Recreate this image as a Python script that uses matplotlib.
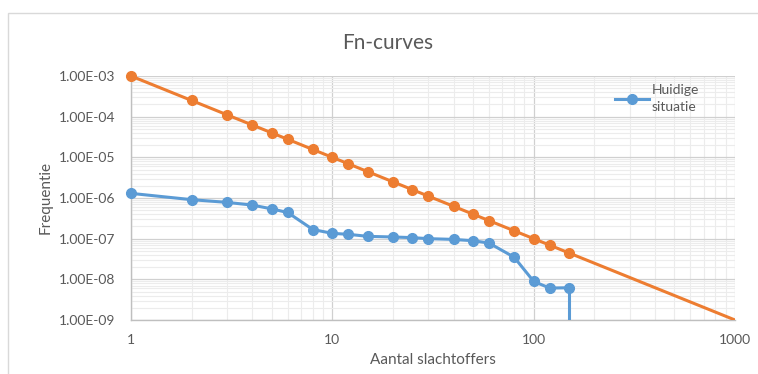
import matplotlib.pyplot as plt
from matplotlib.patches import Rectangle
from matplotlib.ticker import FixedLocator, FuncFormatter, NullFormatter, LogLocator

plt.rcParams['font.family'] = ['Lato', 'DejaVu Sans']

# aantal slachtoffers (x) and frequencies
n_huidig = [1, 2, 3, 4, 5, 6, 8, 10, 12, 15, 20, 25, 30, 40, 50, 60, 80, 100, 120, 150]
f_huidig = [1.3e-6, 9.1e-7, 7.8e-7, 6.7e-7, 5.4e-7, 4.4e-7, 1.68e-7, 1.35e-7, 1.28e-7, 1.14e-7,
            1.1e-7, 1.06e-7, 1.0e-7, 9.6e-8, 8.9e-8, 7.8e-8, 3.5e-8, 8.9e-9, 6.1e-9, 6.2e-9]
# last step: drops to (near) zero at 150
n_drop = [150, 150]
f_drop = [6.2e-9, 1e-12]

n_norm = [1, 2, 3, 4, 5, 6, 8, 10, 12, 15, 20, 25, 30, 40, 50, 60, 80, 100, 120, 150]
f_norm = [1e-3, 2.5e-4, 1.11e-4, 6.25e-5, 4e-5, 2.78e-5, 1.56e-5, 1e-5, 6.94e-6, 4.44e-6,
          2.5e-6, 1.6e-6, 1.11e-6, 6.25e-7, 4e-7, 2.78e-7, 1.56e-7, 1e-7, 6.94e-8, 4.44e-8]
n_norm_end = [150, 1000]
f_norm_end = [4.44e-8, 1e-9]

y_ticks = [1e-9, 1e-8, 1e-7, 1e-6, 1e-5, 1e-4, 1e-3]
x_ticks = [1, 10, 100, 1000]

txt = '#595959'
blue = '#5B9BD5'
orange = '#ED7D31'

fig = plt.figure(figsize=(7.58, 3.74), dpi=100)
fig.patches.append(Rectangle((8 / 758, -0.1), 1.2, 1 - 13 / 374 + 0.1, transform=fig.transFigure,
                             fill=False, edgecolor='#d9d9d9', lw=1))
ax = fig.add_axes([131 / 758, 1 - 320 / 374, 604 / 758, 244 / 374])

ax.set_xscale('log')
ax.set_yscale('log')
ax.set_xlim(1, 1000)
ax.set_ylim(1e-9, 1e-3)

# grid
ax.xaxis.set_major_locator(FixedLocator(x_ticks))
ax.yaxis.set_major_locator(FixedLocator(y_ticks))
ax.xaxis.set_minor_locator(LogLocator(base=10, subs=range(2, 10)))
ax.yaxis.set_minor_locator(LogLocator(base=10, subs=range(2, 10), numticks=20))
ax.xaxis.set_minor_formatter(NullFormatter())
ax.yaxis.set_minor_formatter(NullFormatter())
ax.grid(which='major', color='#d0d0d0', lw=0.9)
ax.grid(which='minor', color='#ececec', lw=0.8)
ax.set_axisbelow(True)

ax.xaxis.set_major_formatter(FuncFormatter(lambda v, p: '%d' % v))
ax.yaxis.set_major_formatter(FuncFormatter(lambda v, p: ('%.2E' % v)))
ax.tick_params(which='both', length=0, labelsize=10, labelcolor=txt)
ax.tick_params(axis='y', pad=11)
ax.tick_params(axis='x', pad=10)

for s in ['top', 'right']:
    ax.spines[s].set_visible(False)
for s in ['left', 'bottom']:
    ax.spines[s].set_color('#bfbfbf')
    ax.spines[s].set_linewidth(1)

ax.plot(n_norm_end, f_norm_end, color=orange, lw=2.2, zorder=3)
ax.plot(n_norm, f_norm, color=orange, lw=2.2, marker='o', ms=7, zorder=3, clip_on=False)
ax.plot(n_drop, f_drop, color=blue, lw=2.2, zorder=4)
ax.plot(n_huidig, f_huidig, color=blue, lw=2.2, marker='o', ms=7, zorder=4,
        label='Huidige\nsituatie', clip_on=False)

leg = ax.legend(loc='upper left', bbox_to_anchor=(0.78, 1.02), frameon=False,
                fontsize=10, handlelength=2.5, handletextpad=0.15, labelcolor=txt)
for t in leg.get_texts():
    t.set_linespacing(1.55)

fig.text(388 / 758, 1 - 43 / 374, 'Fn-curves', fontsize=15, color=txt, ha='center', va='center')
ax.set_xlabel('Aantal slachtoffers', fontsize=11, color=txt, labelpad=5)
ax.set_ylabel('Frequentie', fontsize=11, color=txt, labelpad=5)

fig.savefig('out.png', dpi=100)
